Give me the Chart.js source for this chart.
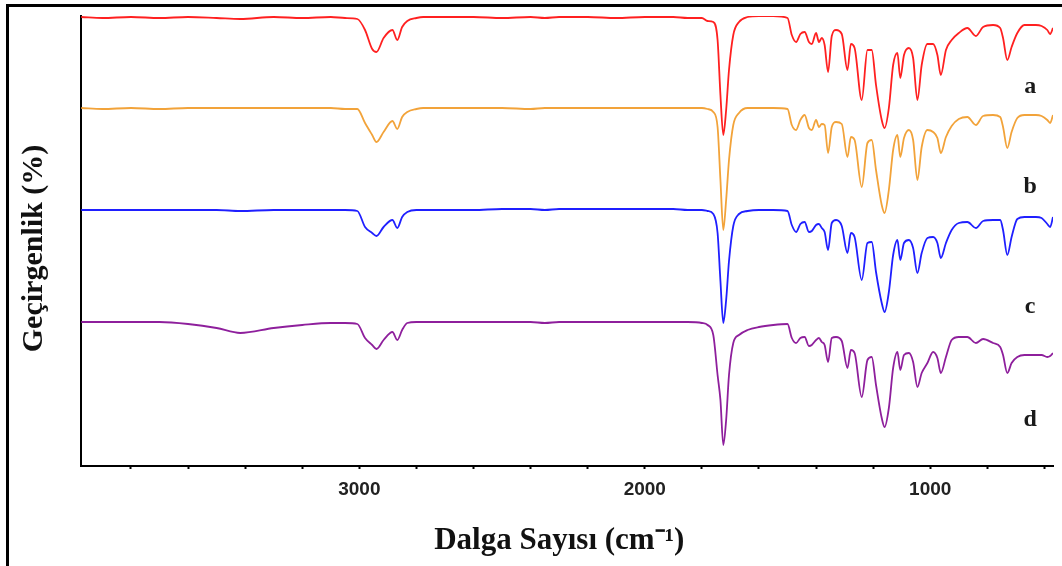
<!DOCTYPE html>
<html>
<head>
<meta charset="utf-8">
<script src="https://cdn.jsdelivr.net/npm/chart.js@4.4.1/dist/chart.umd.min.js"></script>
<style>
  html, body { margin: 0; padding: 0; background: #fff; overflow: hidden; }
  #wrap { position: relative; width: 1062px; height: 566px; }
  #frame { position: absolute; left: 6px; top: 4px; width: 1100px; height: 600px; border: 3px solid #000; box-sizing: border-box; pointer-events: none; }
  #myChart { position: absolute; left: 0; top: 0; }
</style>
</head>
<body>
<div id="wrap">
  <canvas id="myChart" width="1062" height="566"></canvas>
  <div id="frame"></div>
</div>
<script>
// ============= data ============================================
// wave numbers, cm-1
const waveNumbers = [3974, 3900, 3800, 3700, 3600, 3500, 3417, 3300, 3200, 3100, 3050,
  3007, 2980, 2955, 2940, 2915, 2884, 2867, 2850, 2832, 2800, 2776,
  2700, 2600, 2500, 2400, 2350, 2300, 2200, 2100, 2000, 1900, 1850,
  1800, 1780, 1760, 1745, 1735, 1725, 1715, 1705, 1690, 1670, 1640, 1600, 1550, 1500,
  1485, 1470, 1455, 1440, 1425, 1415, 1400, 1390, 1380, 1370, 1358, 1345, 1330, 1310, 1290, 1278, 1265, 1240, 1220, 1205, 1190, 1170, 1160,
  1145, 1130, 1115, 1105, 1092, 1075, 1060, 1045, 1030, 1010, 990, 975, 963, 945, 925, 900, 870, 840, 815, 780, 755, 745, 730, 715, 695, 670, 630, 610, 590, 580, 570];

// stacked transmittance curves (arbitrary offset units)
const seriesA = [449, 448, 449, 448, 449, 448, 447, 449, 448, 449, 448,
  447, 436, 417, 414, 428, 436, 426, 439, 445, 448, 449,
  449, 449, 448, 449, 448, 449, 449, 448, 449, 449, 448,
  448, 445, 444, 426, 371, 331, 356, 396, 431, 444, 449, 450, 450, 448,
  431, 424, 432, 434, 424, 422, 433, 424, 428, 421, 394, 430, 436, 432, 396, 422, 418, 366, 416, 416, 381, 346, 338,
  358, 401, 413, 388, 411, 418, 408, 366, 401, 422, 422, 411, 391, 416, 426, 433, 438, 430, 439, 441, 438, 428, 406, 419, 433, 441, 441, 440, 436, 432, 438];

const seriesB = [358, 357, 358, 357, 358, 358, 358, 358, 358, 358, 357,
  357, 343, 331, 324, 334, 345, 337, 349, 354, 357, 358,
  358, 358, 358, 357, 358, 358, 358, 358, 358, 358, 358,
  358, 357, 354, 339, 286, 236, 266, 306, 341, 353, 358, 358, 358, 357,
  341, 336, 346, 351, 338, 336, 346, 339, 342, 341, 313, 339, 344, 342, 309, 329, 326, 279, 323, 326, 296, 261, 253,
  276, 316, 331, 309, 328, 336, 326, 286, 319, 336, 334, 328, 313, 329, 340, 347, 349, 341, 350, 351, 349, 339, 318, 334, 348, 351, 351, 350, 346, 343, 351];

const seriesC = [256, 256, 256, 256, 256, 256, 255, 256, 256, 256, 256,
  255, 239, 233, 230, 239, 246, 238, 249, 254, 256, 256,
  256, 256, 257, 257, 256, 257, 257, 257, 257, 257, 256,
  256, 255, 252, 233, 185, 143, 166, 205, 240, 252, 255, 256, 256, 255,
  241, 234, 242, 244, 234, 235, 241, 242, 238, 234, 216, 243, 246, 240, 213, 233, 229, 186, 223, 224, 194, 163, 154,
  174, 211, 226, 206, 223, 226, 218, 193, 213, 228, 229, 223, 208, 223, 236, 243, 244, 238, 245, 246, 246, 236, 211, 229, 247, 249, 249, 248, 242, 239, 249];

const seriesD = [144, 144, 144, 144, 142, 138, 133, 138, 141, 143, 143,
  142, 128, 121, 117, 126, 134, 126, 136, 143, 144, 144,
  144, 144, 144, 144, 143, 144, 144, 144, 144, 144, 144,
  143, 141, 131, 91, 66, 21, 46, 91, 123, 131, 136, 139, 141, 142,
  128, 123, 128, 129, 120, 121, 126, 128, 124, 121, 104, 128, 129, 125, 98, 116, 113, 69, 106, 109, 81, 48, 39,
  58, 98, 114, 96, 111, 113, 104, 79, 93, 103, 114, 108, 93, 109, 126, 129, 129, 123, 127, 123, 119, 111, 93, 103, 109, 111, 111, 111, 109, 110, 113];

const seriesNames = ['a', 'b', 'c', 'd'];
const seriesColors = ['#ff2020', '#f2a33a', '#1f1fff', '#8e1f9c'];
// where the letter of each curve sits (wave number, level)
const letterWave = 650;
const letterLevel = [379, 279, 159, 46];
// small tick dots every 200, numbers only on the thousands
const tickValues = [600, 800, 1000, 1200, 1400, 1600, 1800, 2000, 2200, 2400, 2600, 2800, 3000, 3200, 3400, 3600, 3800];
const labeledTicks = [1000, 2000, 3000];
// ============== end of data =============

document.addEventListener('DOMContentLoaded', function () {
  const allSeries = [seriesA, seriesB, seriesC, seriesD];

  const datasets = allSeries.map((s, k) => ({
    label: seriesNames[k],
    data: waveNumbers.map((w, i) => ({ x: w, y: s[i] })),
    borderColor: seriesColors[k],
    borderWidth: 1.8,
    pointRadius: 0,
    tension: 0.3,
    cubicInterpolationMode: 'monotone',
    fill: false
  }));

  // ============ curve letters =================
  const letterPlugin = {
    id: 'letters',
    afterDatasetsDraw(chart) {
      const ctx = chart.ctx;
      const xs = chart.scales.x, ys = chart.scales.y;
      ctx.save();
      ctx.font = 'bold 24px "Liberation Serif", "Times New Roman", serif';
      ctx.fillStyle = '#1a1a1a';
      ctx.textAlign = 'center';
      ctx.textBaseline = 'middle';
      seriesNames.forEach((n, k) => {
        ctx.fillText(n, xs.getPixelForValue(letterWave), ys.getPixelForValue(letterLevel[k]));
      });
      ctx.restore();
    }
  };

  // ============ CHART =================
  const ctx = document.querySelector('#myChart').getContext('2d');
  new Chart(ctx, {
    type: 'line',
    data: { datasets: datasets },
    plugins: [letterPlugin],
    options: {
      responsive: false,
      animation: false,
      layout: { padding: { left: 16, right: 9, top: 16, bottom: 0 } },
      plugins: { legend: { display: false }, tooltip: { enabled: false } },
      scales: {
        x: {
          type: 'linear',
          reverse: true,
          min: 570,
          max: 3975,
          afterBuildTicks: (scale) => { scale.ticks = tickValues.map(v => ({ value: v })); },
          border: { display: true, color: '#000', width: 2 },
          grid: { display: true, drawOnChartArea: false, drawTicks: true, tickLength: 3, tickWidth: 2, tickColor: '#000' },
          ticks: {
            autoSkip: false,
            maxRotation: 0,
            padding: 9,
            color: '#222',
            font: { family: '"Liberation Sans", Arial, sans-serif', size: 19, weight: 'bold' },
            callback: (v) => labeledTicks.includes(v) ? String(v) : ''
          },
          title: {
            display: true,
            text: 'Dalga Sayısı (cm⁻¹)  ',
            color: '#111',
            font: { family: '"Liberation Serif", "Times New Roman", serif', size: 31, weight: 'bold' },
            padding: { top: 13, bottom: 6 }
          }
        },
        y: {
          min: 0,
          max: 450,
          border: { display: true, color: '#000', width: 2 },
          grid: { display: false, drawTicks: false },
          ticks: { display: false },
          title: {
            display: true,
            text: 'Geçirgenlik (%)  ',
            color: '#111',
            font: { family: '"Liberation Serif", "Times New Roman", serif', size: 30, weight: 'bold' },
            padding: { top: 0, bottom: 29 }
          }
        }
      }
    }
  });
// ============= end of CHART ==============
});
</script>
</body>
</html>
